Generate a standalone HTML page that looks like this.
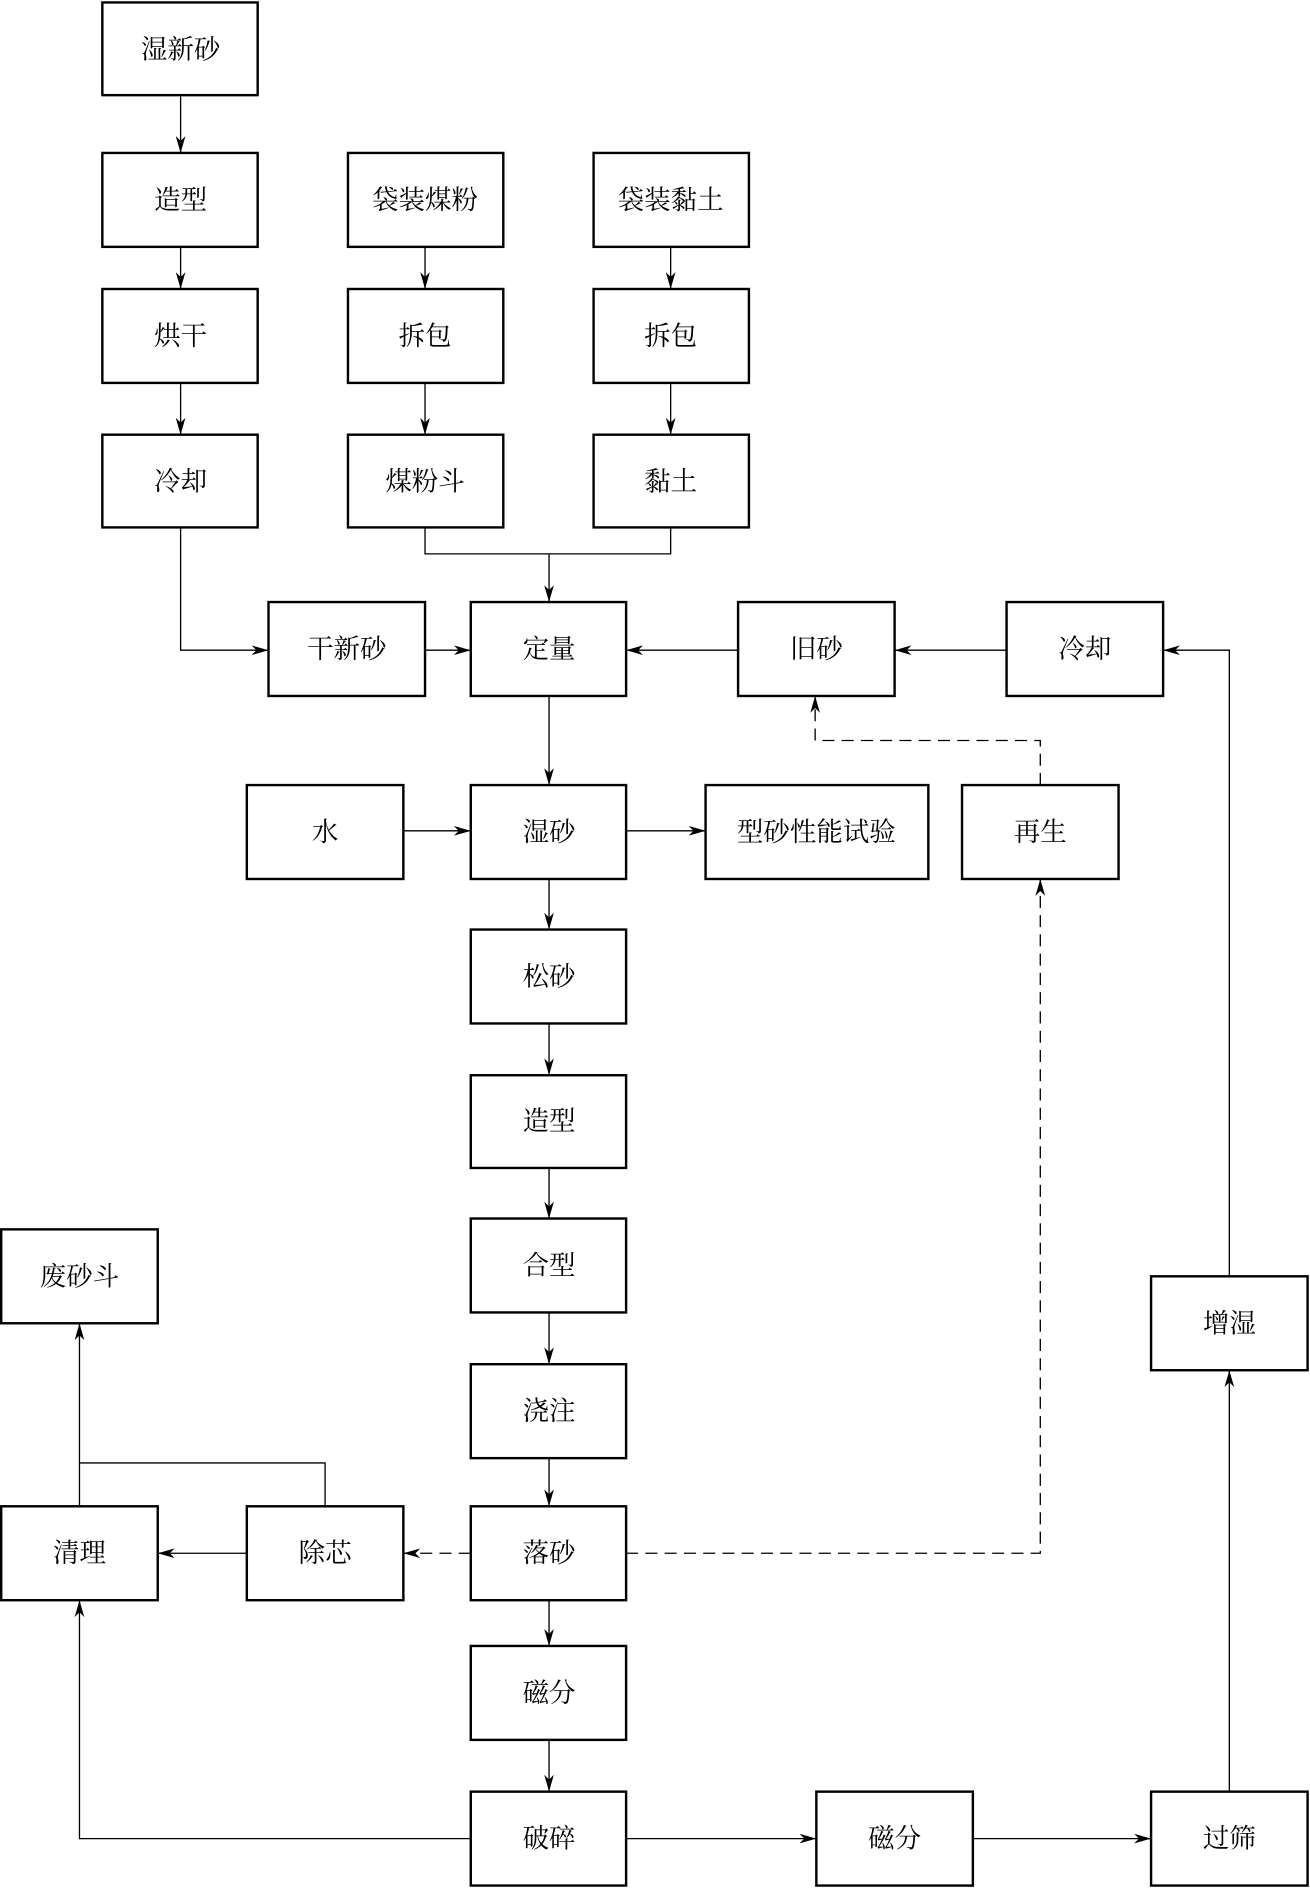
<!DOCTYPE html>
<html><head><meta charset="utf-8"><style>
html,body{margin:0;padding:0;background:#fff;}
svg{display:block;}
text{font-family:"Liberation Serif","Noto Serif CJK SC","Noto Sans CJK SC",serif;font-size:22px;fill:#000;text-anchor:middle;dominant-baseline:central;}
.b{fill:#fff;stroke:#000;stroke-width:2;}
.l{fill:none;stroke:#000;stroke-width:1.1;}
.d{fill:none;stroke:#000;stroke-width:1.1;stroke-dasharray:10,6;}
</style></head><body>
<svg width="1310" height="1888" viewBox="0 0 1088 1568" xmlns="http://www.w3.org/2000/svg">
<defs>
<marker id="a" viewBox="0 0 14 8" refX="14" refY="4" markerWidth="14" markerHeight="8" markerUnits="userSpaceOnUse" orient="auto">
<path d="M0,0 L14,4 L0,8 L4,4 Z" fill="#000"/></marker>
</defs>
<!-- connectors -->
<line class="l" x1="150" y1="79" x2="150" y2="127" marker-end="url(#a)"/>
<line class="l" x1="150" y1="205" x2="150" y2="240" marker-end="url(#a)"/>
<line class="l" x1="150" y1="318" x2="150" y2="361" marker-end="url(#a)"/>
<line class="l" x1="353" y1="205" x2="353" y2="240" marker-end="url(#a)"/>
<line class="l" x1="353" y1="318" x2="353" y2="361" marker-end="url(#a)"/>
<line class="l" x1="557" y1="205" x2="557" y2="240" marker-end="url(#a)"/>
<line class="l" x1="557" y1="318" x2="557" y2="361" marker-end="url(#a)"/>
<polyline class="l" points="150,438 150,540 223,540" marker-end="url(#a)"/>
<polyline class="l" points="353,438 353,460 557,460 557,438"/>
<line class="l" x1="456" y1="460" x2="456" y2="500" marker-end="url(#a)"/>
<line class="l" x1="353" y1="540" x2="391" y2="540" marker-end="url(#a)"/>
<line class="l" x1="613" y1="540" x2="520" y2="540" marker-end="url(#a)"/>
<line class="l" x1="836" y1="540" x2="743" y2="540" marker-end="url(#a)"/>
<polyline class="l" points="1021,1060 1021,540 966,540" marker-end="url(#a)"/>
<polyline class="d" points="864,652 864,615 677,615 677,578" marker-end="url(#a)"/>
<line class="l" x1="456" y1="578" x2="456" y2="652" marker-end="url(#a)"/>
<line class="l" x1="335" y1="690" x2="391" y2="690" marker-end="url(#a)"/>
<line class="l" x1="520" y1="690" x2="586" y2="690" marker-end="url(#a)"/>
<line class="l" x1="456" y1="730" x2="456" y2="772" marker-end="url(#a)"/>
<line class="l" x1="456" y1="850" x2="456" y2="893" marker-end="url(#a)"/>
<line class="l" x1="456" y1="970" x2="456" y2="1012" marker-end="url(#a)"/>
<line class="l" x1="456" y1="1090" x2="456" y2="1133" marker-end="url(#a)"/>
<line class="l" x1="456" y1="1211" x2="456" y2="1251" marker-end="url(#a)"/>
<line class="l" x1="456" y1="1329" x2="456" y2="1367" marker-end="url(#a)"/>
<line class="l" x1="456" y1="1445" x2="456" y2="1488" marker-end="url(#a)"/>
<polyline class="d" points="520,1290 864,1290 864,730" marker-end="url(#a)"/>
<line class="d" x1="391" y1="1290" x2="335" y2="1290" marker-end="url(#a)"/>
<line class="l" x1="205" y1="1290" x2="131" y2="1290" marker-end="url(#a)"/>
<polyline class="l" points="270,1251 270,1215 66,1215"/>
<line class="l" x1="66" y1="1251" x2="66" y2="1099" marker-end="url(#a)"/>
<polyline class="l" points="391,1527 66,1527 66,1329" marker-end="url(#a)"/>
<line class="l" x1="520" y1="1527" x2="678" y2="1527" marker-end="url(#a)"/>
<line class="l" x1="808" y1="1527" x2="956" y2="1527" marker-end="url(#a)"/>
<line class="l" x1="1021" y1="1488" x2="1021" y2="1138" marker-end="url(#a)"/>
<!-- boxes -->
<g>
<rect class="b" x="85" y="2" width="129" height="77"/><text x="150" y="41">湿新砂</text>
<rect class="b" x="85" y="127" width="129" height="78"/><text x="150" y="166">造型</text>
<rect class="b" x="85" y="240" width="129" height="78"/><text x="150" y="279">烘干</text>
<rect class="b" x="85" y="361" width="129" height="77"/><text x="150" y="400">冷却</text>
<rect class="b" x="289" y="127" width="129" height="78"/><text x="353" y="166">袋装煤粉</text>
<rect class="b" x="289" y="240" width="129" height="78"/><text x="353" y="279">拆包</text>
<rect class="b" x="289" y="361" width="129" height="77"/><text x="353" y="400">煤粉斗</text>
<rect class="b" x="493" y="127" width="129" height="78"/><text x="557" y="166">袋装黏土</text>
<rect class="b" x="493" y="240" width="129" height="78"/><text x="557" y="279">拆包</text>
<rect class="b" x="493" y="361" width="129" height="77"/><text x="557" y="400">黏土</text>
<rect class="b" x="223" y="500" width="130" height="78"/><text x="288" y="539">干新砂</text>
<rect class="b" x="391" y="500" width="129" height="78"/><text x="456" y="539">定量</text>
<rect class="b" x="613" y="500" width="130" height="78"/><text x="678" y="539">旧砂</text>
<rect class="b" x="836" y="500" width="130" height="78"/><text x="901" y="539">冷却</text>
<rect class="b" x="205" y="652" width="130" height="78"/><text x="270" y="691">水</text>
<rect class="b" x="391" y="652" width="129" height="78"/><text x="456" y="691">湿砂</text>
<rect class="b" x="586" y="652" width="185" height="78"/><text x="678" y="691">型砂性能试验</text>
<rect class="b" x="799" y="652" width="130" height="78"/><text x="864" y="691">再生</text>
<rect class="b" x="391" y="772" width="129" height="78"/><text x="456" y="811">松砂</text>
<rect class="b" x="391" y="893" width="129" height="77"/><text x="456" y="931">造型</text>
<rect class="b" x="391" y="1012" width="129" height="78"/><text x="456" y="1051">合型</text>
<rect class="b" x="391" y="1133" width="129" height="78"/><text x="456" y="1172">浇注</text>
<rect class="b" x="391" y="1251" width="129" height="78"/><text x="456" y="1290">落砂</text>
<rect class="b" x="391" y="1367" width="129" height="78"/><text x="456" y="1406">磁分</text>
<rect class="b" x="391" y="1488" width="129" height="78"/><text x="456" y="1527">破碎</text>
<rect class="b" x="1" y="1021" width="130" height="78"/><text x="66" y="1060">废砂斗</text>
<rect class="b" x="1" y="1251" width="130" height="78"/><text x="66" y="1290">清理</text>
<rect class="b" x="205" y="1251" width="130" height="78"/><text x="270" y="1290">除芯</text>
<rect class="b" x="956" y="1060" width="130" height="78"/><text x="1021" y="1099">增湿</text>
<rect class="b" x="678" y="1488" width="130" height="78"/><text x="743" y="1527">磁分</text>
<rect class="b" x="956" y="1488" width="130" height="78"/><text x="1021" y="1527">过筛</text>
</g>
</svg>
</body></html>
